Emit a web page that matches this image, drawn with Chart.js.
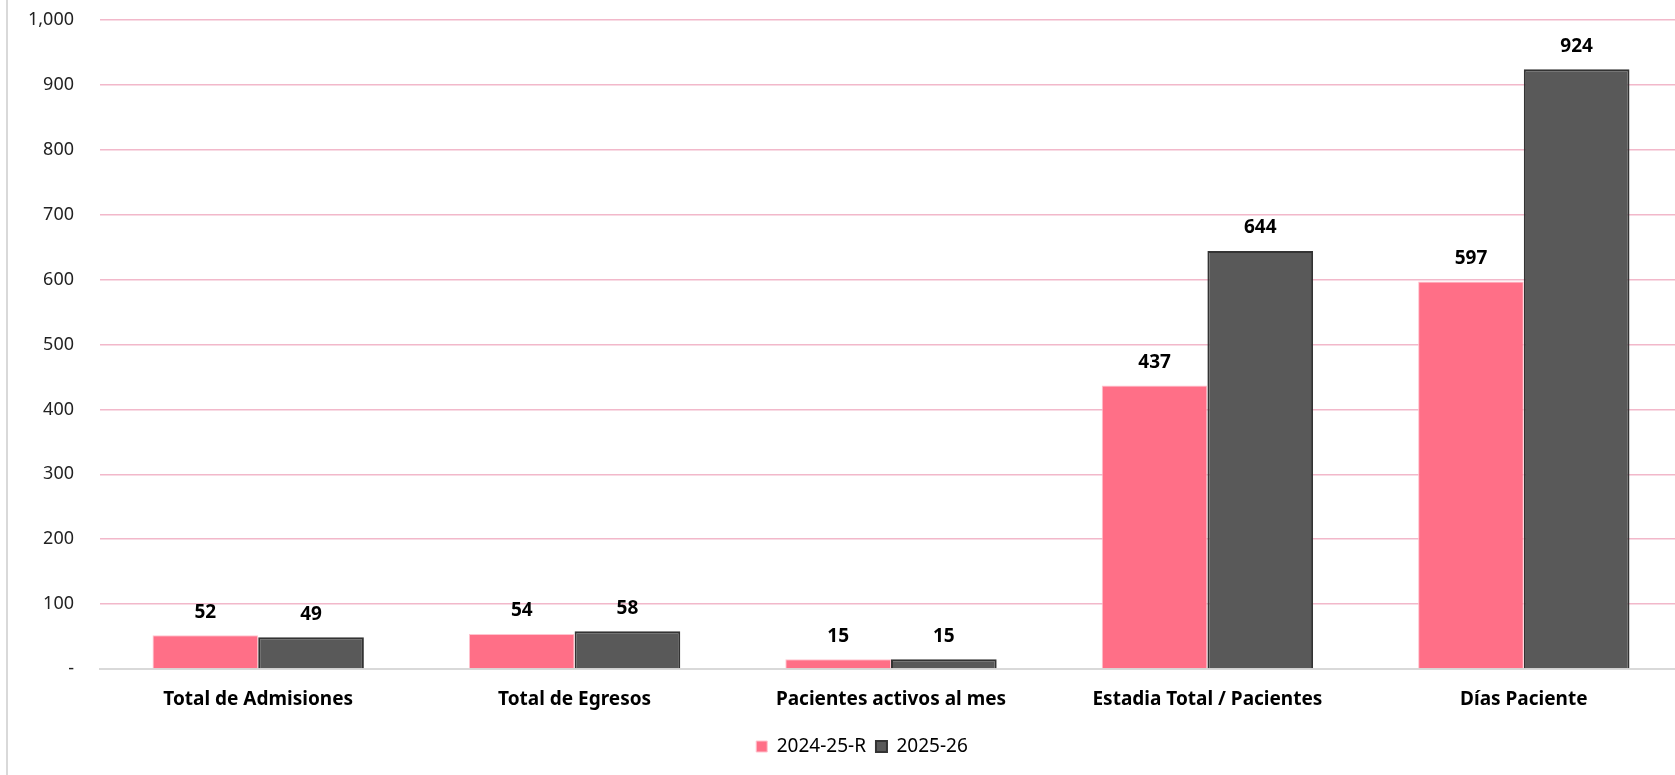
<!DOCTYPE html>
<html lang="es">
<head>
    <meta charset="UTF-8">
    <title>Indicadores 2024-25-R vs 2025-26</title>
    <script src="https://cdn.jsdelivr.net/npm/chart.js"></script>
    <style>
        html, body {
            margin: 0;
            padding: 0;
            background: #fff;
            overflow: hidden;
        }
        #wrap {
            position: relative;
            width: 1682px;
            height: 775px;
        }
        #wrap::before {
            content: '';
            position: absolute;
            left: 6px;
            top: 0;
            bottom: 0;
            border-left: 2px solid #d9d9d9;
        }
    </style>
</head>
<body>
    <div id="wrap"><canvas id="myChart"></canvas></div>

    <script>
        // datos
        const categorias = ['Total de Admisiones', 'Total de Egresos', 'Pacientes activos al mes', 'Estadia Total / Pacientes', 'Días Paciente'];
        const serie2024 = [52, 54, 15, 437, 597];
        const serie2025 = [49, 58, 15, 644, 924];
        const nombres = ['2024-25-R', '2025-26'];

        const fuente = "'Noto Sans', 'Open Sans', sans-serif";

        // etiquetas de valor encima de las barras
        const etiquetas = {
            id: 'etiquetas',
            afterDatasetsDraw(chart) {
                const c = chart.ctx;
                c.save();
                c.font = 'bold 19px ' + fuente;
                c.fillStyle = '#000';
                c.textAlign = 'center';
                c.textBaseline = 'middle';
                chart.data.datasets.forEach((ds, i) => {
                    chart.getDatasetMeta(i).data.forEach((bar, j) => {
                        c.fillText(ds.data[j].toLocaleString('en-US'), bar.x, bar.y - 23);
                    });
                });
                c.restore();
            }
        };

        // mover la leyenda un poco a la derecha
        const moverLeyenda = {
            id: 'moverLeyenda',
            afterLayout(chart) {
                if (chart.legend) {
                    chart.legend.left += 21;
                    chart.legend.right += 21;
                }
            }
        };

        const ctx = document.getElementById('myChart').getContext('2d');
        const myChart = new Chart(ctx, {
            type: 'bar',
            data: {
                labels: categorias,
                datasets: [{
                    label: nombres[0],
                    data: serie2024,
                    backgroundColor: '#ff6f87',
                    borderColor: '#ffc4cf',
                    borderWidth: 1
                }, {
                    label: nombres[1],
                    data: serie2025,
                    backgroundColor: '#595959',
                    borderColor: '#333333',
                    borderWidth: 2
                }]
            },
            options: {
                responsive: true,
                maintainAspectRatio: false,
                animation: false,
                layout: {
                    padding: { top: 20, bottom: 9, left: 0, right: 0 }
                },
                datasets: {
                    bar: {
                        categoryPercentage: 0.668,
                        barPercentage: 1
                    }
                },
                plugins: {
                    tooltip: { enabled: false },
                    legend: {
                        position: 'bottom',
                        labels: {
                            boxWidth: 11,
                            boxHeight: 11,
                            padding: 10,
                            color: '#000',
                            font: { family: fuente, size: 19 }
                        }
                    }
                },
                scales: {
                    x: {
                        grid: { display: false, drawTicks: false },
                        border: { display: true, color: '#d9d9d9', width: 2 },
                        ticks: {
                            padding: 19,
                            color: '#000',
                            font: { family: fuente, size: 19, weight: 'bold' },
                            maxRotation: 0,
                            autoSkip: false
                        },
                        afterFit(scale) { scale.height = 58; }
                    },
                    y: {
                        min: 0,
                        max: 1000,
                        grid: {
                            color: (c) => c.tick && c.tick.value === 0 ? 'rgba(0,0,0,0)' : '#f2b8ca',
                            lineWidth: 1.5,
                            drawTicks: false
                        },
                        border: { display: false },
                        ticks: {
                            stepSize: 100,
                            padding: 26,
                            color: '#222',
                            font: { family: fuente, size: 18 },
                            callback: (v) => v === 0 ? '-' : v.toLocaleString('en-US')
                        },
                        afterFit(scale) {
                            scale.width = 100;
                            scale.paddingTop = 0;
                        }
                    }
                }
            },
            plugins: [etiquetas, moverLeyenda]
        });
    </script>
</body>
</html>
